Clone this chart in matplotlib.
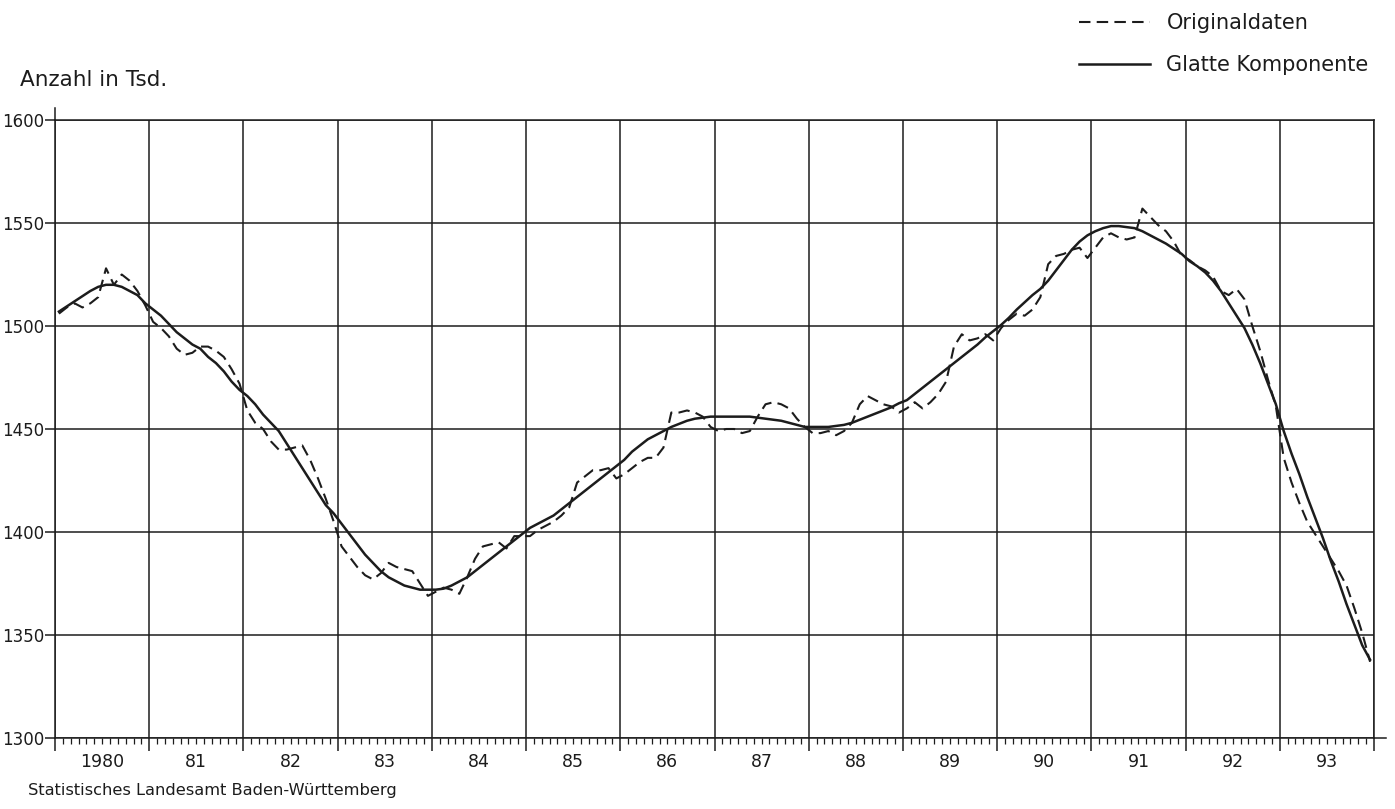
import matplotlib.pyplot as plt
from matplotlib.ticker import MultipleLocator, NullFormatter

# Erwerbstaetige, Monatswerte 1980-1993 (in Tsd.)
jahre = list(range(1980, 1994))
jahr_labels = ['1980', '81', '82', '83', '84', '85', '86',
               '87', '88', '89', '90', '91', '92', '93']

originaldaten = [
    1506, 1509, 1511, 1509, 1511, 1514, 1528, 1520, 1525, 1522, 1517, 1510,  # 1980
    1502, 1499, 1495, 1489, 1486, 1487, 1490, 1490, 1488, 1485, 1479, 1472,  # 1981
    1459, 1453, 1450, 1444, 1440, 1440, 1441, 1442, 1435, 1426, 1416, 1405,  # 1982
    1393, 1388, 1383, 1379, 1377, 1380, 1385, 1383, 1382, 1381, 1375, 1369,  # 1983
    1371, 1373, 1372, 1370, 1378, 1387, 1393, 1394, 1395, 1392, 1398, 1398,  # 1984
    1398, 1401, 1403, 1405, 1408, 1412, 1424, 1427, 1430, 1430, 1431, 1426,  # 1985
    1428, 1431, 1434, 1436, 1436, 1441, 1458, 1458, 1459, 1458, 1456, 1451,  # 1986
    1449, 1450, 1450, 1448, 1449, 1456, 1462, 1463, 1462, 1460, 1455, 1451,  # 1987
    1448, 1448, 1449, 1447, 1449, 1453, 1462, 1466, 1464, 1462, 1461, 1458,  # 1988
    1460, 1463, 1460, 1463, 1467, 1473, 1490, 1496, 1493, 1494, 1496, 1493,  # 1989
    1499, 1503, 1506, 1505, 1508, 1514, 1530, 1534, 1535, 1537, 1538, 1533,  # 1990
    1538, 1543, 1545, 1543, 1542, 1543, 1557, 1553, 1549, 1546, 1541, 1534,  # 1991
    1532, 1529, 1527, 1524, 1517, 1515, 1518, 1513, 1500, 1488, 1474, 1461,  # 1992
    1436, 1424, 1414, 1405, 1399, 1393, 1387, 1381, 1374, 1363, 1351, 1337,  # 1993
]

glatte_komponente = [
    1507, 1509.5, 1512, 1514.5, 1517, 1519, 1520, 1520, 1519, 1517, 1515, 1511,  # 1980
    1508, 1505, 1501, 1497, 1494, 1491, 1489, 1485, 1482, 1478, 1473, 1469,  # 1981
    1466, 1462, 1457, 1453, 1449, 1443, 1437, 1431, 1425, 1419, 1413, 1409,  # 1982
    1404, 1399, 1394, 1389, 1385, 1381, 1378, 1376, 1374, 1373, 1372, 1372,  # 1983
    1372, 1372.5, 1374, 1376, 1378, 1381, 1384, 1387, 1390, 1393, 1396, 1399,  # 1984
    1402, 1404, 1406, 1408, 1411, 1414, 1417, 1420, 1423, 1426, 1429, 1432,  # 1985
    1435, 1439, 1442, 1445, 1447, 1449, 1451, 1452.5, 1454, 1455, 1455.5, 1456,  # 1986
    1456, 1456, 1456, 1456, 1456, 1455.5, 1455, 1454.5, 1454, 1453, 1452, 1451,  # 1987
    1451, 1451, 1451, 1451.5, 1452, 1453, 1454.5, 1456, 1457.5, 1459, 1460.5, 1462.5,  # 1988
    1464, 1467, 1470, 1473, 1476, 1479, 1482, 1485, 1488, 1491, 1494.5, 1497.5,  # 1989
    1500.5, 1504, 1508, 1511.5, 1515, 1518, 1522, 1527, 1532, 1537, 1541, 1544,  # 1990
    1546, 1547.5, 1548.5, 1548.5, 1548, 1547.5, 1546, 1544, 1542, 1540, 1537.5, 1535,  # 1991
    1531.5, 1529, 1526, 1522, 1517, 1511, 1505, 1499, 1491, 1482, 1472, 1462,  # 1992
    1449, 1438, 1428, 1417, 1407, 1397, 1386, 1376, 1365, 1355, 1345, 1338,  # 1993
]

# Monatsmitte als Zeitpunkt
zeit = [j + (m + 0.5) / 12 for j in jahre for m in range(12)]

ink = '#1c1c1c'
plt.rcParams['font.family'] = ['DejaVu Sans']

fig = plt.figure(figsize=(13.95, 8.09), dpi=100)
ax = fig.add_axes([55 / 1395, 1 - 738 / 809, (1374 - 55) / 1395, (738 - 120) / 809])

ax.plot(zeit, originaldaten, color=ink, lw=1.5, dashes=(5.5, 3), label='Originaldaten')
ax.plot(zeit, glatte_komponente, color=ink, lw=1.8, label='Glatte Komponente')

ax.set_xlim(jahre[0], jahre[-1] + 1)
ax.set_ylim(1300, 1600)

ax.xaxis.set_major_locator(MultipleLocator(1))
ax.xaxis.set_minor_locator(MultipleLocator(1 / 12))
ax.xaxis.set_major_formatter(NullFormatter())
ax.yaxis.set_major_locator(MultipleLocator(50))

ax.tick_params(axis='x', which='major', direction='out', length=9.5, width=1.1, color=ink)
ax.tick_params(axis='x', which='minor', direction='out', length=4, width=0.9, color=ink)
ax.tick_params(axis='y', direction='out', length=7, width=1.1, pad=1,
               labelsize=12, color=ink, labelcolor=ink)

ax.grid(True, which='major', color=ink, lw=1.1)
for sp in ax.spines.values():
    sp.set_color(ink)
    sp.set_linewidth(1.1)

# kleine Ueberstaende der Achsenlinien wie im Original
ax.axvline(jahre[0], ymin=1, ymax=1 + 12 / 618, color=ink, lw=1.1, clip_on=False)
ax.axhline(1300, xmin=1, xmax=1 + 12 / 1319, color=ink, lw=1.1, clip_on=False)

# Jahresbeschriftung in der Mitte des Jahres
for j, lab in zip(jahre, jahr_labels):
    ax.text(j + 0.5, -24 / 618, lab, transform=ax.get_xaxis_transform(),
            ha='center', va='center', fontsize=12.5, color=ink)

fig.text(20 / 1395, 1 - 80 / 809, 'Anzahl in Tsd.', fontsize=15.5, va='center', color=ink)
fig.text(28 / 1395, 1 - 790 / 809, 'Statistisches Landesamt Baden-Württemberg',
         fontsize=11.7, va='center', color=ink)

fig.legend(loc='upper left', bbox_to_anchor=(1079 / 1395, 1 - 13 / 809), frameon=False,
           fontsize=15, handlelength=3.4, handletextpad=0.8, labelspacing=1.05,
           borderaxespad=0, borderpad=0, labelcolor=ink)

fig.savefig('out.png', dpi=100)
